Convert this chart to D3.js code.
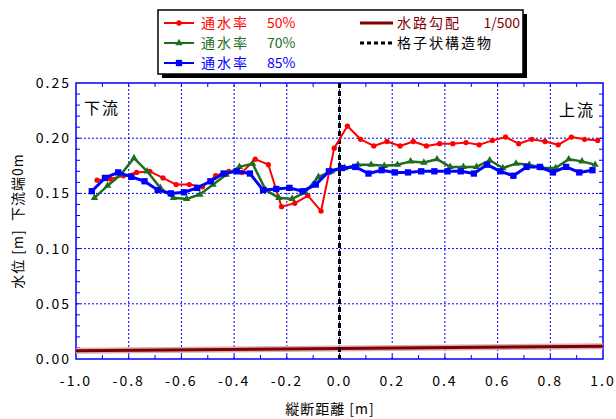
<!DOCTYPE html>
<html>
<head>
<meta charset="utf-8">
<script src="https://cdn.jsdelivr.net/npm/d3@7"></script>
<style>
  body { margin: 0; background: #fff; }
  text { font-family: "Noto Sans CJK JP", "Noto Sans", sans-serif; }
</style>
</head>
<body>
<div id="chart"></div>
<script>
// 縦断距離の開始位置 (系列ごとに少しずれている), 間隔 0.05
const xStart = { r50: -0.92, r70: -0.93, r85: -0.94 };
const xStep = 0.05;

// 通水率 50%
const ratio50 = [0.162, 0.163, 0.166, 0.169, 0.170, 0.164, 0.158, 0.158, 0.156, 0.166,
  0.170, 0.169, 0.181, 0.176, 0.138, 0.141, 0.148, 0.134, 0.191, 0.211,
  0.199, 0.193, 0.197, 0.193, 0.197, 0.193, 0.195, 0.195, 0.196, 0.194,
  0.198, 0.201, 0.195, 0.199, 0.197, 0.194, 0.201, 0.199, 0.198];
// 通水率 70%
const ratio70 = [0.146, 0.157, 0.167, 0.182, 0.170, 0.155, 0.146, 0.145, 0.149, 0.158,
  0.167, 0.174, 0.177, 0.153, 0.146, 0.145, 0.151, 0.165, 0.170, 0.173,
  0.176, 0.176, 0.175, 0.176, 0.179, 0.178, 0.181, 0.174, 0.174, 0.174,
  0.180, 0.173, 0.177, 0.176, 0.173, 0.173, 0.181, 0.179, 0.176];
// 通水率 85%
const ratio85 = [0.152, 0.164, 0.169, 0.165, 0.161, 0.153, 0.150, 0.151, 0.155, 0.161,
  0.168, 0.170, 0.168, 0.153, 0.154, 0.155, 0.152, 0.158, 0.170, 0.173,
  0.174, 0.168, 0.171, 0.169, 0.169, 0.170, 0.170, 0.170, 0.170, 0.168,
  0.176, 0.170, 0.166, 0.174, 0.174, 0.169, 0.174, 0.169, 0.171];
// 水路勾配 1/500
const slopeX = [-1.0, 1.0];
const slopeY = [0.0075, 0.0115];
// 格子状構造物
const gridX = 0.0;

const xTicks = [-1.0, -0.8, -0.6, -0.4, -0.2, 0.0, 0.2, 0.4, 0.6, 0.8, 1.0];
const yTicks = [0.00, 0.05, 0.10, 0.15, 0.20, 0.25];

const width = 616, height = 419;
const margin = { left: 76, right: 13, top: 83, bottom: 60 };

const svg = d3.select("#chart").append("svg")
  .attr("width", width).attr("height", height);

const x = d3.scaleLinear().domain([-1, 1]).range([margin.left, width - margin.right]);
const y = d3.scaleLinear().domain([0, 0.25]).range([height - margin.bottom, margin.top]);

const blue = "#0000ff";

// grid
svg.append("g").selectAll("line").data(xTicks.slice(1, -1)).enter().append("line")
  .attr("x1", d => x(d)).attr("x2", d => x(d))
  .attr("y1", y(0)).attr("y2", y(0.25))
  .attr("stroke", blue).attr("stroke-width", 1).attr("stroke-dasharray", "2,2");
svg.append("g").selectAll("line").data(yTicks.slice(1, -1)).enter().append("line")
  .attr("x1", x(-1)).attr("x2", x(1))
  .attr("y1", d => y(d)).attr("y2", d => y(d))
  .attr("stroke", blue).attr("stroke-width", 1).attr("stroke-dasharray", "2,2");

// minor ticks (inside)
const xMinor = d3.range(-9, 10).map(i => i / 10);
const yMinor = d3.range(1, 25).map(i => i / 100);
const tk = svg.append("g").attr("stroke", blue).attr("stroke-width", 1);
xMinor.forEach(v => {
  tk.append("line").attr("x1", x(v)).attr("x2", x(v)).attr("y1", y(0)).attr("y2", y(0) - 4);
  tk.append("line").attr("x1", x(v)).attr("x2", x(v)).attr("y1", y(0.25)).attr("y2", y(0.25) + 4);
});
yMinor.forEach(v => {
  tk.append("line").attr("x1", x(-1)).attr("x2", x(-1) + 4).attr("y1", y(v)).attr("y2", y(v));
  tk.append("line").attr("x1", x(1)).attr("x2", x(1) - 4).attr("y1", y(v)).attr("y2", y(v));
});

// frame
svg.append("rect")
  .attr("x", x(-1)).attr("y", y(0.25))
  .attr("width", x(1) - x(-1)).attr("height", y(0) - y(0.25))
  .attr("fill", "none").attr("stroke", blue).attr("stroke-width", 1.5);

// tick labels
const fmt = d3.format(".1f");
svg.append("g").selectAll("text").data(xTicks).enter().append("text")
  .attr("x", d => x(d)).attr("y", y(0) + 27)
  .attr("text-anchor", "middle").attr("font-size", 14).attr("letter-spacing", 2)
  .attr("fill", "#000")
  .text(d => (d < 0 ? "-" : "") + fmt(Math.abs(d)));
svg.append("g").selectAll("text").data(yTicks).enter().append("text")
  .attr("x", x(-1) - 5).attr("y", d => y(d)).attr("dy", "0.35em")
  .attr("text-anchor", "end").attr("font-size", 14).attr("letter-spacing", 2)
  .attr("fill", "#000")
  .text(d => d3.format(".2f")(d));

// axis titles
svg.append("text")
  .attr("x", 330).attr("y", 414)
  .attr("text-anchor", "middle").attr("font-size", 14).attr("letter-spacing", 1)
  .text("縦断距離 [m]");
svg.append("text")
  .attr("transform", "translate(23," + y(0.125) + ") rotate(-90)")
  .attr("text-anchor", "middle").attr("font-size", 14).attr("letter-spacing", 1)
  .attr("xml:space", "preserve")
  .text("水位 [m]  下流端0m");

// 下流 / 上流
svg.append("text").attr("x", x(-1) + 8).attr("y", 114)
  .attr("font-size", 16).attr("letter-spacing", 2).text("下流");
svg.append("text").attr("x", x(1) - 8).attr("y", 116)
  .attr("text-anchor", "end").attr("font-size", 16).attr("letter-spacing", 2).text("上流");

// slope line
const slopeData = slopeX.map((v, i) => [v, slopeY[i]]);
const lineXY = d3.line().x(d => x(d[0])).y(d => y(d[1]));
svg.append("path").datum(slopeData).attr("d", lineXY)
  .attr("fill", "none").attr("stroke", "#d8b0b0").attr("stroke-width", 6);
svg.append("path").datum(slopeData).attr("d", lineXY)
  .attr("fill", "none").attr("stroke", "#800000").attr("stroke-width", 3);

// structure line
svg.append("line")
  .attr("x1", x(gridX)).attr("x2", x(gridX))
  .attr("y1", y(0.25)).attr("y2", y(0))
  .attr("stroke", "#000").attr("stroke-width", 3).attr("stroke-dasharray", "5,3");

// series
const series = [
  { name: "通水率", pct: "50%", data: ratio50, x0: xStart.r50, color: "#ff0000", marker: "circle", width: 2 },
  { name: "通水率", pct: "70%", data: ratio70, x0: xStart.r70, color: "#1e6e1e", marker: "triangle", width: 2.5 },
  { name: "通水率", pct: "85%", data: ratio85, x0: xStart.r85, color: "#0000ff", marker: "square", width: 3 }
];
const symbols = {
  circle: d3.symbol().type(d3.symbolCircle).size(22),
  triangle: d3.symbol().type(d3.symbolTriangle).size(24),
  square: d3.symbol().type(d3.symbolSquare).size(40)
};

series.forEach(s => {
  const pts = s.data.map((v, i) => [s.x0 + i * xStep, v]);
  svg.append("path").datum(pts).attr("d", lineXY)
    .attr("fill", "none").attr("stroke", s.color).attr("stroke-width", s.width)
    .attr("stroke-linejoin", "round");
  svg.append("g").selectAll("path").data(pts).enter().append("path")
    .attr("transform", d => "translate(" + x(d[0]) + "," + y(d[1]) + ")")
    .attr("d", symbols[s.marker]).attr("fill", s.color);
});

// legend
const lg = svg.append("g");
lg.append("rect").attr("x", 162).attr("y", 14).attr("width", 365).attr("height", 64).attr("fill", "#000");
lg.append("rect").attr("x", 158).attr("y", 10).attr("width", 365).attr("height", 64)
  .attr("fill", "#fff").attr("stroke", "#000").attr("stroke-width", 1.5);

series.forEach((s, i) => {
  const yy = 23 + i * 20;
  lg.append("line").attr("x1", 164).attr("x2", 194).attr("y1", yy).attr("y2", yy)
    .attr("stroke", s.color).attr("stroke-width", 2);
  lg.append("path").attr("transform", "translate(179," + yy + ")")
    .attr("d", symbols[s.marker]).attr("fill", s.color);
  lg.append("text").attr("x", 201).attr("y", yy).attr("dy", "0.35em")
    .attr("font-size", 14).attr("letter-spacing", 2).attr("fill", s.color).text(s.name);
  lg.append("text").attr("x", 267).attr("y", yy).attr("dy", "0.35em")
    .attr("font-size", 14).attr("fill", s.color).text(s.pct);
});
lg.append("line").attr("x1", 360).attr("x2", 393).attr("y1", 23).attr("y2", 23)
  .attr("stroke", "#800000").attr("stroke-width", 3);
lg.append("text").attr("x", 397).attr("y", 23).attr("dy", "0.35em")
  .attr("font-size", 14).attr("letter-spacing", 2).attr("fill", "#800000").text("水路勾配");
lg.append("text").attr("x", 520).attr("y", 23).attr("dy", "0.35em").attr("text-anchor", "end")
  .attr("font-size", 14).attr("fill", "#800000").text("1/500");
lg.append("line").attr("x1", 360).attr("x2", 393).attr("y1", 43).attr("y2", 43)
  .attr("stroke", "#000").attr("stroke-width", 3).attr("stroke-dasharray", "4,3");
lg.append("text").attr("x", 397).attr("y", 43).attr("dy", "0.35em")
  .attr("font-size", 14).attr("letter-spacing", 2).attr("fill", "#000").text("格子状構造物");
</script>
</body>
</html>
